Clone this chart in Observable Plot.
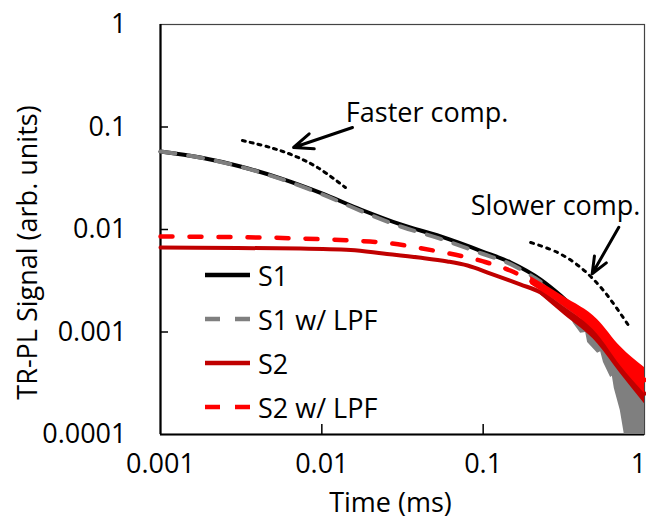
<!DOCTYPE html>
<html>
<head>
<meta charset="utf-8">
<script src="https://cdn.jsdelivr.net/npm/d3@7"></script>
<script src="https://cdn.jsdelivr.net/npm/@observablehq/plot@0.6"></script>
<style>
  body { margin: 0; background: white; }
  #wrap { position: relative; width: 646px; height: 520px; background: white; font-family: "Open Sans", sans-serif; }
  #legend { position: absolute; left: 203px; top: 253px; font-size: 27px; color: black; }
  #legend .row { height: 44px; display: flex; align-items: center; white-space: nowrap; }
  #legend svg { margin-right: 8px; }
</style>
</head>
<body>
<div id="wrap"></div>
<script>
// ---- axis ticks ----
const xTicks = [0.001, 0.01, 0.1, 1];
const xTickLabels = ["0.001", "0.01", "0.1", "1"];
const yTicks = [0.0001, 0.001, 0.01, 0.1, 1];
const yTickLabels = ["0.0001", "0.001", "0.01", "0.1", "1"];

// ---- S1 (black) ----
const s1Time   = [0.001, 0.00177, 0.00313, 0.00555, 0.01, 0.0174, 0.0308, 0.0545, 0.099, 0.148, 0.227, 0.302, 0.402, 0.535, 0.711, 0.82];
const s1Signal = [0.0577, 0.0504, 0.0412, 0.0315, 0.0225, 0.01567, 0.0112, 0.00855, 0.0061, 0.00477, 0.00325, 0.00227, 0.00148, 0.00088, 0.00047, 0.0003];

// ---- S1 w/ LPF (gray dashed) ----
const s1LpfTime   = [0.001, 0.00177, 0.00313, 0.00555, 0.01, 0.0174, 0.0308, 0.0545, 0.099, 0.148, 0.227];
const s1LpfSignal = [0.0577, 0.0502, 0.0410, 0.0312, 0.0221, 0.0152, 0.0107, 0.0081, 0.0058, 0.0046, 0.0031];
// noisy tail (envelope)
const s1LpfTailTime  = [0.227, 0.273, 0.315, 0.339, 0.363, 0.402, 0.432, 0.444, 0.512, 0.535, 0.557, 0.617, 0.632, 0.65, 0.708, 0.75, 1.0];
const s1LpfTailUpper = [0.00314, 0.0024, 0.0019, 0.00172, 0.00155, 0.00135, 0.00121, 0.00116, 0.00092, 0.00084, 0.00077, 0.00063, 0.00059, 0.00055, 0.00042, 0.00036, 0.000215];
const s1LpfTailLower = [0.00262, 0.00203, 0.00151, 0.00155, 0.00121, 0.00097, 0.00099, 0.00079, 0.00062, 0.00064, 0.000504, 0.00036, 0.00037, 0.000281, 0.000171, 0.0001, 0.0001];

// ---- S2 (dark red) ----
const s2Time   = [0.001, 0.003, 0.00738, 0.0151, 0.024, 0.04, 0.06, 0.08, 0.111, 0.171, 0.227, 0.315, 0.512, 0.708, 1.0];
const s2Signal = [0.00667, 0.0066, 0.00653, 0.0063, 0.00583, 0.00533, 0.00488, 0.00445, 0.00372, 0.0029, 0.00243, 0.00162, 0.00087, 0.00046, 0.00025];
const s2TailTime  = [0.227, 0.315, 0.512, 0.708, 1.0];
const s2TailUpper = [0.0026, 0.00177, 0.00099, 0.000527, 0.0003];
const s2TailLower = [0.0023, 0.00148, 0.00077, 0.000394, 0.0002];

// ---- S2 w/ LPF (red dashed) ----
const s2LpfTime   = [0.001, 0.00177, 0.00738, 0.0151, 0.024, 0.049, 0.1, 0.147, 0.197, 0.315, 0.512, 0.708, 1.0];
const s2LpfSignal = [0.00855, 0.0085, 0.00817, 0.0078, 0.00746, 0.00624, 0.00488, 0.00398, 0.00316, 0.002, 0.00112, 0.00058, 0.00034];
const s2LpfTailTime  = [0.197, 0.315, 0.512, 0.708, 1.0];
const s2LpfTailUpper = [0.00348, 0.00222, 0.00132, 0.000722, 0.000451];
const s2LpfTailLower = [0.0029, 0.00177, 0.000946, 0.000471, 0.000251];

// ---- annotations ----
const fasterGuideTime   = [0.00322, 0.00481, 0.00668, 0.0094, 0.014];
const fasterGuideSignal = [0.0738, 0.063, 0.0527, 0.0403, 0.0257];
const slowerGuideTime   = [0.197, 0.289, 0.402, 0.557, 0.796];
const slowerGuideSignal = [0.00746, 0.00597, 0.00426, 0.00254, 0.00116];
const arrowX1 = [0.01549, 0.693];
const arrowY1 = [0.0989, 0.01052];
const arrowX2 = [0.00668, 0.474];
const arrowY2 = [0.0631, 0.0037];
const noteLabels = ["Faster comp.", "Slower comp."];
const noteX = [0.0449, 0.281];
const noteY = [0.1355, 0.01676];

// ---- legend ----
const legendLabels = ["S1", "S1 w/ LPF", "S2", "S2 w/ LPF"];
const legendColors = ["#000000", "#7f7f7f", "#c00000", "#ff0000"];
const legendDashed = [false, true, false, true];

const pts = (xs, ys) => xs.map((x, i) => ({x, y: ys[i]}));
const band = (xs, lo, hi) => xs.map((x, i) => ({x, y1: lo[i], y2: hi[i]}));
const yInner = [0.001, 0.01, 0.1];
const xInner = [0.01, 0.1];
const arrows = arrowX1.map((x1, i) => ({x1, y1: arrowY1[i], x2: arrowX2[i], y2: arrowY2[i]}));
const notes = noteLabels.map((t, i) => ({t, x: noteX[i], y: noteY[i]}));
const xLab = xTicks.map((x, i) => ({x, t: xTickLabels[i]}));

const chart = Plot.plot({
  width: 646,
  height: 520,
  marginLeft: 160,
  marginRight: 2,
  marginTop: 24,
  marginBottom: 86,
  x: {type: "log", domain: [0.001, 1], axis: null},
  y: {type: "log", domain: [0.0001, 1]},
  style: {fontFamily: "'Open Sans', sans-serif", fontSize: "27px", color: "black", background: "white", overflow: "visible"},
  marks: [
    Plot.frame({stroke: "#444", strokeWidth: 1.2}),
    Plot.text(xLab.slice(0, 3), {x: "x", text: "t", frameAnchor: "bottom", lineAnchor: "top", dy: 19, fontSize: 27, fill: "black"}),
    Plot.text(xLab.slice(3), {x: "x", text: "t", frameAnchor: "bottom", lineAnchor: "top", dy: 19, dx: -6, fontSize: 27, fill: "black"}),
    Plot.axisY({ticks: yTicks, tickFormat: d => yTickLabels[yTicks.indexOf(d)], tickSize: 0, tickPadding: 34, label: null, fontSize: 27}),
    Plot.tickY(yInner, {y: d => d, insetRight: 476, stroke: "black", strokeWidth: 1.5}),
    Plot.tickX(xInner, {x: d => d, insetTop: 400, stroke: "black", strokeWidth: 1.5}),
    Plot.ruleX([0.001], {stroke: "black", strokeWidth: 2.2}),
    Plot.ruleY([0.0001], {stroke: "black", strokeWidth: 2.2}),
    Plot.text(["TR-PL Signal (arb. units)"], {frameAnchor: "left", textAnchor: "middle", lineAnchor: "middle", dx: -132, dy: 23, rotate: -90, fontSize: 27, fill: "black"}),
    Plot.text(["Time (ms)"], {frameAnchor: "bottom", textAnchor: "middle", lineAnchor: "middle", dx: -12, dy: 69, fontSize: 27, fill: "black"}),

    // S1
    Plot.line(pts(s1Time, s1Signal), {x: "x", y: "y", stroke: "#000000", strokeWidth: 4, curve: "monotone-x"}),
    // S1 w/ LPF
    Plot.areaY(band(s1LpfTailTime, s1LpfTailLower, s1LpfTailUpper), {x: "x", y1: "y1", y2: "y2", fill: "#7f7f7f"}),
    Plot.line(pts(s1LpfTime, s1LpfSignal), {x: "x", y: "y", stroke: "#7f7f7f", strokeWidth: 4, strokeDasharray: "15,13", curve: "monotone-x"}),
    // S2
    Plot.line(pts(s2Time, s2Signal), {x: "x", y: "y", stroke: "#c00000", strokeWidth: 4, curve: "monotone-x"}),
    Plot.areaY(band(s2TailTime, s2TailLower, s2TailUpper), {x: "x", y1: "y1", y2: "y2", fill: "#c00000", curve: "monotone-x"}),
    // S2 w/ LPF
    Plot.line(pts(s2LpfTime, s2LpfSignal), {x: "x", y: "y", stroke: "#ff0000", strokeWidth: 4.5, strokeDasharray: "12,17", strokeLinecap: "round", curve: "monotone-x"}),
    Plot.areaY(band(s2LpfTailTime, s2LpfTailLower, s2LpfTailUpper), {x: "x", y1: "y1", y2: "y2", fill: "#ff0000", curve: "monotone-x"}),

    // guides and notes
    Plot.line(pts(fasterGuideTime, fasterGuideSignal), {x: "x", y: "y", stroke: "black", strokeWidth: 3, strokeDasharray: "3,5", curve: "catmull-rom"}),
    Plot.line(pts(slowerGuideTime, slowerGuideSignal), {x: "x", y: "y", stroke: "black", strokeWidth: 3, strokeDasharray: "3,5.5", curve: "catmull-rom"}),
    Plot.arrow(arrows, {x1: "x1", y1: "y1", x2: "x2", y2: "y2", stroke: "black", strokeWidth: 3, headLength: 11, headAngle: 45}),
    Plot.text(notes, {x: "x", y: "y", text: "t", fontSize: 27, fill: "black"})
  ]
});

const wrap = document.getElementById("wrap");
wrap.appendChild(chart);

const legend = document.createElement("div");
legend.id = "legend";
legendLabels.forEach((lab, i) => {
  const row = document.createElement("div");
  row.className = "row";
  const dash = legendDashed[i] ? ' stroke-dasharray="15,15"' : '';
  row.innerHTML = `<svg width="47" height="12"><line x1="2" y1="6" x2="47" y2="6" stroke="${legendColors[i]}" stroke-width="4.5"${dash}/></svg><span>${lab}</span>`;
  legend.appendChild(row);
});
wrap.appendChild(legend);
</script>
</body>
</html>
